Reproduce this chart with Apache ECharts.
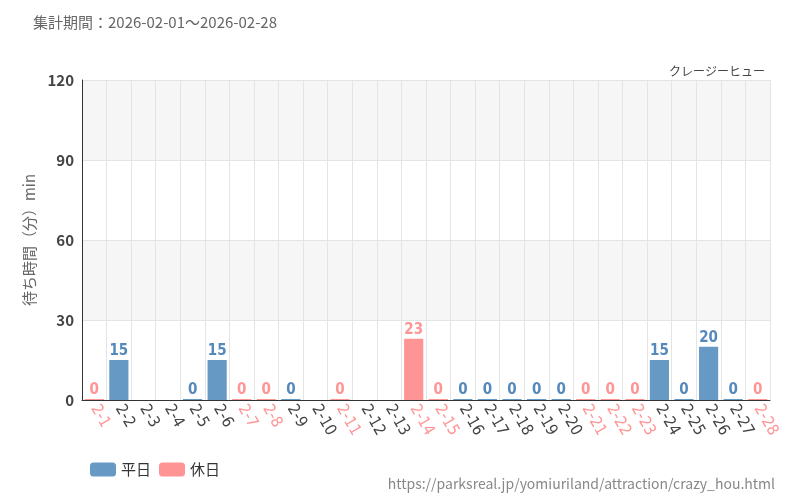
<!DOCTYPE html>
<html><head><meta charset="utf-8">
<script src="https://cdn.jsdelivr.net/npm/echarts@6/dist/echarts.min.js"></script>
<style>body{margin:0}#c{width:800px;height:500px}</style></head>
<body><div id="c"></div>
<script>
var days = ['2-1','2-2','2-3','2-4','2-5','2-6','2-7','2-8','2-9','2-10','2-11','2-12','2-13','2-14','2-15','2-16','2-17','2-18','2-19','2-20','2-21','2-22','2-23','2-24','2-25','2-26','2-27','2-28'];
var holidays = ['2-1','2-7','2-8','2-11','2-14','2-15','2-21','2-22','2-23','2-28'];
var waits = [0,15,null,null,0,15,0,0,0,null,0,null,null,23,0,0,0,0,0,0,0,0,0,15,0,20,0,0];

var blue = '#6699c4', red = '#ff9494';
var weekday = waits.map(function(v,i){ return holidays.indexOf(days[i]) < 0 ? v : null; });
var holiday = waits.map(function(v,i){ return holidays.indexOf(days[i]) >= 0 ? v : null; });
var font = 'DejaVu Sans Condensed';

var chart = echarts.init(document.getElementById('c'));
function ser(name, data, color, lc){
    return {
        name: name, type: 'bar', data: data, barWidth: '78%', barGap: '-100%', barMinHeight: 1,
        itemStyle: {color: color},
        label: {show: true, position: 'top', distance: 1, color: lc, fontSize: 15, fontWeight: 'bold', fontFamily: font}
    };
}
chart.setOption({
    textStyle: {fontFamily: 'Noto Sans CJK JP'},
    title: [
        {text: '集計期間：2026-02-01～2026-02-28', left: 28, top: 10, textStyle: {fontSize: 15, fontWeight: 'normal', color: '#666'}},
        {text: 'クレージーヒュー', right: 30, top: 60, textStyle: {fontSize: 12, fontWeight: 'normal', color: '#444'}},
        {text: 'https://parksreal.jp/yomiuriland/attraction/crazy_hou.html', right: 20, top: 472, textStyle: {fontSize: 14, fontWeight: 'normal', color: '#888'}}
    ],
    legend: {left: 85, top: 457, itemWidth: 26, itemHeight: 14, textStyle: {fontSize: 15, color: '#333'}, data: ['平日','休日']},
    grid: {left: 82, right: 30, top: 80, bottom: 100},
    xAxis: {
        type: 'category', data: days,
        axisTick: {alignWithLabel: true, lineStyle: {color: '#333'}},
        axisLine: {lineStyle: {color: '#333'}},
        splitLine: {show: true, interval: 0, lineStyle: {color: '#e4e4e4'}},
        axisLabel: {interval: 0, rotate: -60, fontSize: 16, fontFamily: font, margin: 6,
            color: function(v){ return holidays.indexOf(v) >= 0 ? red : '#444'; }}
    },
    yAxis: {
        type: 'value', min: 0, max: 120, interval: 30,
        name: '待ち時間（分）min', nameLocation: 'middle', nameGap: 45,
        nameTextStyle: {fontSize: 15, color: '#666'},
        axisLine: {show: true, lineStyle: {color: '#333'}},
        axisLabel: {fontSize: 15, color: '#444', fontWeight: 'bold'},
        splitLine: {lineStyle: {color: '#e4e4e4'}},
        splitArea: {show: true, areaStyle: {color: ['#ffffff', '#f6f6f6']}}
    },
    series: [ser('平日', weekday, blue, '#5588bb'), ser('休日', holiday, red, red)]
});
</script></body></html>
